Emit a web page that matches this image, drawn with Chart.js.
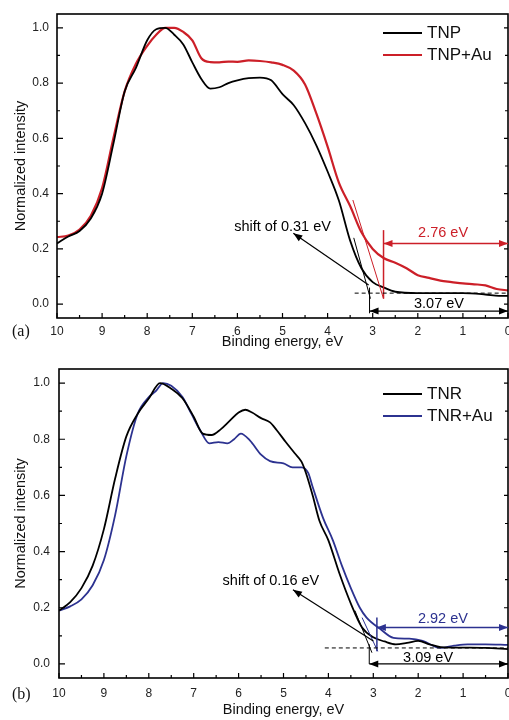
<!DOCTYPE html>
<html>
<head>
<meta charset="utf-8">
<script src="https://cdn.jsdelivr.net/npm/chart.js@4.4.0/dist/chart.umd.min.js"></script>
<style>
    html, body { margin: 0; padding: 0; background: #fff; overflow: hidden; }
    canvas { position: absolute; left: 0; }
    #chartA { top: 0; }
    #chartB { top: 358px; }
</style>
</head>
<body>
<canvas id="chartA" width="509" height="358"></canvas>
<canvas id="chartB" width="509" height="362"></canvas>
<script>
// ---- data ----
const energyTicks = [10, 9, 8, 7, 6, 5, 4, 3, 2, 1, 0];
const intensityTicks = [0.0, 0.2, 0.4, 0.6, 0.8, 1.0];

// panel (a)
const tnpEnergy = [10, 9.75, 9.5, 9.25, 9.0, 8.75, 8.5, 8.25, 8.0, 7.8, 7.6, 7.4, 7.2, 7.0, 6.8, 6.6, 6.4, 6.2, 6.0, 5.75, 5.5, 5.25, 5.0, 4.75, 4.5, 4.25, 4.0, 3.75, 3.5, 3.25, 3.0, 2.75, 2.5, 2.0, 1.5, 1.0, 0.5, 0.2, 0];
const tnpIntensity = [0.22, 0.245, 0.265, 0.31, 0.40, 0.58, 0.77, 0.855, 0.955, 0.995, 1.0, 0.975, 0.94, 0.875, 0.815, 0.78, 0.785, 0.80, 0.81, 0.818, 0.82, 0.81, 0.76, 0.72, 0.655, 0.575, 0.48, 0.375, 0.23, 0.13, 0.08, 0.06, 0.045, 0.04, 0.04, 0.04, 0.035, 0.03, 0.03];

const tnpAuEnergy = [10, 9.75, 9.5, 9.25, 9.0, 8.75, 8.5, 8.25, 8.0, 7.8, 7.6, 7.4, 7.2, 7.0, 6.8, 6.6, 6.4, 6.2, 6.0, 5.75, 5.5, 5.25, 5.0, 4.75, 4.5, 4.25, 4.0, 3.75, 3.5, 3.25, 3.0, 2.75, 2.5, 2.25, 2.0, 1.75, 1.5, 1.25, 1.0, 0.75, 0.5, 0.25, 0];
const tnpAuIntensity = [0.243, 0.248, 0.27, 0.32, 0.42, 0.6, 0.77, 0.87, 0.935, 0.975, 1.0, 1.0, 0.985, 0.955, 0.89, 0.876, 0.875, 0.878, 0.877, 0.882, 0.88, 0.875, 0.866, 0.845, 0.795, 0.69, 0.57, 0.44, 0.355, 0.26, 0.2, 0.166, 0.15, 0.13, 0.105, 0.095, 0.085, 0.08, 0.075, 0.072, 0.068, 0.055, 0.05];

// panel (b)
const tnrEnergy = [10, 9.75, 9.5, 9.25, 9.0, 8.75, 8.5, 8.25, 8.0, 7.75, 7.5, 7.25, 7.0, 6.8, 6.6, 6.4, 6.2, 6.0, 5.85, 5.7, 5.5, 5.3, 5.15, 4.95, 4.75, 4.6, 4.5, 4.35, 4.2, 4.0, 3.75, 3.5, 3.25, 3.0, 2.75, 2.5, 2.25, 2.0, 1.75, 1.5, 1.0, 0.5, 0];
const tnrIntensity = [0.19, 0.22, 0.27, 0.35, 0.48, 0.66, 0.81, 0.89, 0.945, 1.0, 0.98, 0.946, 0.88, 0.82, 0.815, 0.835, 0.865, 0.895, 0.905, 0.895, 0.875, 0.86, 0.832, 0.79, 0.75, 0.72, 0.68, 0.60, 0.51, 0.44, 0.32, 0.215, 0.13, 0.095, 0.08, 0.07, 0.075, 0.082, 0.07, 0.06, 0.058, 0.057, 0.053];

const tnrAuEnergy = [10, 9.75, 9.5, 9.25, 9.0, 8.75, 8.5, 8.25, 8.0, 7.85, 7.68, 7.5, 7.25, 7.05, 6.85, 6.65, 6.45, 6.25, 6.1, 5.95, 5.75, 5.5, 5.3, 5.0, 4.8, 4.6, 4.45, 4.35, 4.12, 3.9, 3.7, 3.5, 3.3, 3.15, 2.85, 2.55, 2.2, 1.9, 1.5, 1.2, 0.9, 0.5, 0];
const tnrAuIntensity = [0.19, 0.205, 0.23, 0.28, 0.37, 0.53, 0.74, 0.89, 0.95, 0.97, 1.0, 0.99, 0.95, 0.89, 0.83, 0.785, 0.79, 0.785, 0.80, 0.82, 0.796, 0.745, 0.722, 0.714, 0.70, 0.70, 0.68, 0.63, 0.52, 0.44, 0.35, 0.27, 0.2, 0.165, 0.125, 0.093, 0.09, 0.082, 0.057, 0.065, 0.07, 0.07, 0.068];

// ---- styling ----
const SANS = '"Liberation Sans", Arial, sans-serif';
const SERIF = '"Liberation Serif", "Times New Roman", serif';
const RED = '#cc1f28';
const BLUE = '#2c3290';
Chart.defaults.font.family = SANS;
Chart.defaults.color = '#222';

// annotation marks, in data coordinates [energy, intensity]
const marksA = [
    { kind: 'line', a: [3.44, 0.377], b: [2.76, 0.02], color: RED, w: 1 },
    { kind: 'line', a: [3.42, 0.24], b: [3.05, 0.02], color: '#000', w: 1 },
    { kind: 'line', a: [2.76, 0.268], b: [2.76, 0.02], color: RED, w: 1.5 },
    { kind: 'arrow2', a: [2.76, 0.22], b: [0, 0.22], color: RED, w: 1.5 },
    { kind: 'text', a: [1.44, 0.257], text: '2.76 eV', color: RED },
    { kind: 'dash', a: [3.4, 0.04], b: [0, 0.04], color: '#000', w: 1 },
    { kind: 'line', a: [3.07, 0.06], b: [3.07, -0.033], color: '#000', w: 1 },
    { kind: 'arrow2', a: [3.07, -0.025], b: [0, -0.025], color: '#000', w: 1.2 },
    { kind: 'text', a: [1.53, 0.0], text: '3.07 eV', color: '#000' },
    { kind: 'arrow', a: [3.09, 0.069], b: [4.76, 0.257], color: '#000', w: 1.2 },
    { kind: 'text', a: [5.0, 0.28], text: 'shift of 0.31 eV', color: '#000' }
];
const marksB = [
    { kind: 'line', a: [3.41, 0.19], b: [3.03, 0.04], color: '#000', w: 1 },
    { kind: 'line', a: [3.25, 0.165], b: [2.9, 0.045], color: BLUE, w: 1 },
    { kind: 'line', a: [2.92, 0.165], b: [2.92, 0.045], color: BLUE, w: 1.5 },
    { kind: 'arrow2', a: [2.92, 0.13], b: [0, 0.13], color: BLUE, w: 1.5 },
    { kind: 'text', a: [1.45, 0.16], text: '2.92 eV', color: BLUE },
    { kind: 'dash', a: [4.08, 0.057], b: [0, 0.057], color: '#000', w: 1 },
    { kind: 'line', a: [3.09, 0.07], b: [3.09, 0.0], color: '#000', w: 1 },
    { kind: 'arrow2', a: [3.09, 0.0], b: [0, 0.0], color: '#000', w: 1.2 },
    { kind: 'text', a: [1.78, 0.02], text: '3.09 eV', color: '#000' },
    { kind: 'arrow', a: [3.0, 0.082], b: [4.79, 0.264], color: '#000', w: 1.2 },
    { kind: 'text', a: [5.28, 0.296], text: 'shift of 0.16 eV', color: '#000' }
];

function arrowHead(ctx, x1, y1, x2, y2) {
    const ang = Math.atan2(y2 - y1, x2 - x1);
    const len = 9, w = 3.5;
    const bx = x2 - len * Math.cos(ang), by = y2 - len * Math.sin(ang);
    ctx.beginPath();
    ctx.moveTo(x2, y2);
    ctx.lineTo(bx + w * Math.sin(ang), by - w * Math.cos(ang));
    ctx.lineTo(bx - w * Math.sin(ang), by + w * Math.cos(ang));
    ctx.closePath();
    ctx.fill();
}

function makePanel(canvasId, panel) {
    const canvas = document.getElementById(canvasId);
    const H = canvas.height;

    // frame, inward ticks, legend, annotations
    const marksPlugin = {
        id: 'marks' + canvasId,
        afterDatasetsDraw(chart) {
            const { ctx, chartArea: ar, scales: { x, y } } = chart;
            const P = (p) => [x.getPixelForValue(p[0]), y.getPixelForValue(p[1])];
            ctx.save();

            ctx.strokeStyle = '#000';
            ctx.lineWidth = 1.2;
            ctx.beginPath();
            for (let i = 0; i < energyTicks.length; i++) {
                const px = x.getPixelForValue(energyTicks[i]);
                ctx.moveTo(px, ar.bottom); ctx.lineTo(px, ar.bottom - 5);
                if (i < energyTicks.length - 1) {
                    const mx = x.getPixelForValue((energyTicks[i] + energyTicks[i + 1]) / 2);
                    ctx.moveTo(mx, ar.bottom); ctx.lineTo(mx, ar.bottom - 3);
                }
            }
            for (let i = 0; i < intensityTicks.length; i++) {
                const py = y.getPixelForValue(intensityTicks[i]);
                ctx.moveTo(ar.left, py); ctx.lineTo(ar.left + 6, py);
                ctx.moveTo(ar.right, py); ctx.lineTo(ar.right - 4, py);
                if (i < intensityTicks.length - 1) {
                    const my = y.getPixelForValue((intensityTicks[i] + intensityTicks[i + 1]) / 2);
                    ctx.moveTo(ar.left, my); ctx.lineTo(ar.left + 3, my);
                    ctx.moveTo(ar.right, my); ctx.lineTo(ar.right - 3, my);
                }
            }
            ctx.stroke();
            ctx.lineWidth = 1.6;
            ctx.strokeRect(ar.left, ar.top, ar.right - ar.left, ar.bottom - ar.top);

            // annotations
            panel.marks.forEach(m => {
                ctx.strokeStyle = m.color;
                ctx.fillStyle = m.color;
                if (m.kind === 'text') {
                    const [tx, ty] = P(m.a);
                    ctx.font = '14.5px ' + SANS;
                    ctx.textAlign = 'center';
                    ctx.textBaseline = 'middle';
                    ctx.fillText(m.text, tx, ty);
                    return;
                }
                const [x1, y1] = P(m.a);
                const [x2, y2] = P(m.b);
                ctx.lineWidth = m.w;
                ctx.setLineDash(m.kind === 'dash' ? [4, 3] : []);
                ctx.beginPath();
                ctx.moveTo(x1, y1); ctx.lineTo(x2, y2);
                ctx.stroke();
                ctx.setLineDash([]);
                if (m.kind === 'arrow' || m.kind === 'arrow2') arrowHead(ctx, x1, y1, x2, y2);
                if (m.kind === 'arrow2') arrowHead(ctx, x2, y2, x1, y1);
            });

            // legend inside the frame
            ctx.font = '17px ' + SANS;
            ctx.textAlign = 'left';
            ctx.textBaseline = 'middle';
            chart.data.datasets.forEach((ds, i) => {
                const ly = ar.top + panel.legendTop + i * 22;
                ctx.strokeStyle = ds.borderColor;
                ctx.lineWidth = 2;
                ctx.beginPath();
                ctx.moveTo(ar.right - 125, ly); ctx.lineTo(ar.right - 86, ly);
                ctx.stroke();
                ctx.fillStyle = '#111';
                ctx.fillText(ds.label, ar.right - 81, ly);
            });

            // panel letter
            ctx.font = '16px ' + SERIF;
            ctx.fillStyle = '#111';
            ctx.fillText(panel.letter, 12, panel.letterY);
            ctx.restore();
        }
    };

    return new Chart(canvas, {
        type: 'line',
        data: {
            datasets: panel.series.map(s => ({
                label: s.label,
                data: s.energy.map((e, i) => ({ x: e, y: s.intensity[i] })),
                borderColor: s.color,
                borderWidth: s.width,
                pointRadius: 0,
                fill: false,
                cubicInterpolationMode: 'monotone'
            }))
        },
        options: {
            responsive: false,
            animation: false,
            events: [],
            layout: { padding: { top: panel.top, left: 0, right: 1, bottom: 0 } },
            plugins: { legend: { display: false }, tooltip: { enabled: false } },
            scales: {
                x: {
                    type: 'linear',
                    reverse: true,
                    min: 0,
                    max: 10,
                    afterBuildTicks: s => { s.ticks = energyTicks.map(v => ({ value: v })); },
                    afterFit: s => {
                        s.height = H - panel.bottom;
                        s.paddingLeft = 0; s.paddingRight = 0;
                    },
                    grid: { display: false, drawTicks: false },
                    border: { display: false },
                    ticks: {
                        padding: panel.xTickPad,
                        autoSkip: false,
                        maxRotation: 0,
                        color: '#222',
                        font: { size: 12 },
                        callback: v => String(v)
                    },
                    title: {
                        display: true,
                        text: 'Binding energy, eV',
                        color: '#111',
                        font: { size: 14.5 },
                        padding: { top: 0, bottom: panel.xTitlePad }
                    }
                },
                y: {
                    min: -0.05,
                    max: 1.05,
                    afterBuildTicks: s => { s.ticks = intensityTicks.map(v => ({ value: v })); },
                    afterFit: s => {
                        s.width = panel.left;
                        s.paddingTop = 0; s.paddingBottom = 0;
                    },
                    grid: { display: false, drawTicks: false },
                    border: { display: false },
                    ticks: {
                        padding: panel.yTickPad,
                        color: '#222',
                        font: { size: 12 },
                        callback: v => Number(v).toFixed(1)
                    },
                    title: {
                        display: true,
                        text: 'Normalized intensity',
                        color: '#111',
                        font: { size: 14.5 },
                        padding: { top: 12, bottom: 0 }
                    }
                }
            }
        },
        plugins: [marksPlugin]
    });
}

makePanel('chartA', {
    series: [
        { label: 'TNP', energy: tnpEnergy, intensity: tnpIntensity, color: '#000', width: 1.8 },
        { label: 'TNP+Au', energy: tnpAuEnergy, intensity: tnpAuIntensity, color: RED, width: 2.2 }
    ],
    marks: marksA,
    top: 14, bottom: 318, left: 57,
    xTickPad: 6, yTickPad: 8, xTitlePad: 7,
    legendTop: 19, letter: '(a)', letterY: 332
});

makePanel('chartB', {
    series: [
        { label: 'TNR', energy: tnrEnergy, intensity: tnrIntensity, color: '#000', width: 1.8 },
        { label: 'TNR+Au', energy: tnrAuEnergy, intensity: tnrAuIntensity, color: BLUE, width: 1.8 }
    ],
    marks: marksB,
    top: 11, bottom: 320, left: 59,
    xTickPad: 8, yTickPad: 9, xTitlePad: 1,
    legendTop: 25, letter: '(b)', letterY: 337
});
</script>
</body>
</html>
